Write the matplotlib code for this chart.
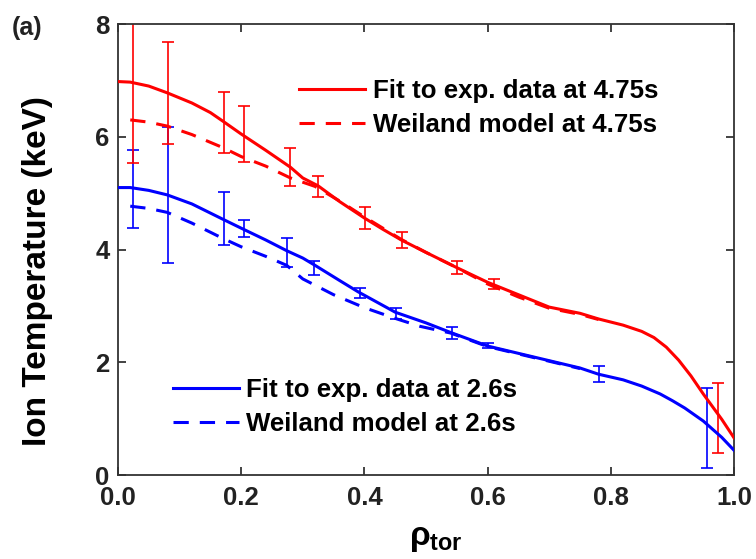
import matplotlib
matplotlib.use("Agg")
import matplotlib.pyplot as plt

plt.rcParams['font.family'] = ['Liberation Sans', 'DejaVu Sans']
plt.rcParams['font.weight'] = 'bold'
plt.rcParams['mathtext.fontset'] = 'custom'
plt.rcParams['mathtext.rm'] = 'Liberation Sans:bold'
plt.rcParams['mathtext.it'] = 'Liberation Sans:bold'
plt.rcParams['mathtext.bf'] = 'Liberation Sans:bold'

# ---- data ----
red_fit_x = [0.0, 0.02, 0.05, 0.08, 0.12, 0.15, 0.17, 0.20, 0.24, 0.28, 0.30, 0.325, 0.36, 0.40, 0.43, 0.46,
             0.50, 0.55, 0.60, 0.65, 0.70, 0.75, 0.78, 0.82, 0.85, 0.87, 0.89, 0.91, 0.93, 0.95, 0.98, 1.00]
red_fit_y = [6.98, 6.97, 6.90, 6.78, 6.60, 6.43, 6.28, 6.05, 5.76, 5.46, 5.27, 5.13, 4.85, 4.56, 4.36, 4.17,
             3.95, 3.68, 3.42, 3.20, 2.98, 2.87, 2.77, 2.66, 2.55, 2.44, 2.27, 2.04, 1.76, 1.44, 0.99, 0.66]

red_model_x = [0.02, 0.05, 0.08, 0.12, 0.17, 0.20, 0.24, 0.28, 0.32, 0.36, 0.40, 0.46, 0.50, 0.55, 0.60,
               0.65, 0.70, 0.75, 0.78]
red_model_y = [6.30, 6.26, 6.19, 6.04, 5.81, 5.65, 5.48, 5.27, 5.12, 4.86, 4.58, 4.18, 3.95, 3.68, 3.39,
               3.16, 2.96, 2.85, 2.76]

blue_fit_x = [0.0, 0.02, 0.05, 0.08, 0.12, 0.17, 0.20, 0.24, 0.274, 0.30, 0.32, 0.36, 0.39, 0.45, 0.50,
              0.54, 0.60, 0.65, 0.70, 0.75, 0.78, 0.82, 0.85, 0.88, 0.90, 0.92, 0.95, 0.98, 1.00]
blue_fit_y = [5.10, 5.10, 5.05, 4.97, 4.81, 4.54, 4.38, 4.17, 3.98, 3.85, 3.72, 3.45, 3.25, 2.89, 2.70,
              2.53, 2.29, 2.16, 2.03, 1.90, 1.79, 1.69, 1.58, 1.44, 1.32, 1.19, 0.96, 0.67, 0.44]

blue_model_x = [0.02, 0.05, 0.08, 0.12, 0.17, 0.20, 0.24, 0.274, 0.30, 0.35, 0.40, 0.45, 0.49, 0.54,
                0.60, 0.65, 0.70, 0.75]
blue_model_y = [4.77, 4.73, 4.66, 4.47, 4.20, 4.05, 3.88, 3.72, 3.48, 3.20, 2.97, 2.78, 2.64, 2.52,
                2.28, 2.15, 2.02, 1.89]

red_err_x = [0.024, 0.081, 0.172, 0.205, 0.279, 0.325, 0.401, 0.461, 0.551, 0.610, 0.974]
red_err_y = [6.98, 6.78, 6.26, 6.05, 5.46, 5.12, 4.56, 4.17, 3.68, 3.39, 1.02]
red_err_e = [1.44, 0.91, 0.54, 0.49, 0.34, 0.18, 0.20, 0.15, 0.12, 0.08, 0.62]

blue_err_x = [0.024, 0.081, 0.172, 0.205, 0.274, 0.318, 0.393, 0.452, 0.542, 0.600, 0.780, 0.956]
blue_err_y = [5.07, 4.97, 4.56, 4.38, 3.95, 3.67, 3.23, 2.87, 2.52, 2.30, 1.79, 0.83]
blue_err_e = [0.69, 1.20, 0.47, 0.15, 0.25, 0.12, 0.09, 0.10, 0.11, 0.05, 0.14, 0.71]

labels_red = ['Fit to exp. data at 4.75s', 'Weiland model at 4.75s']
labels_blue = ['Fit to exp. data at 2.6s', 'Weiland model at 2.6s']
x_ticks = [0.0, 0.2, 0.4, 0.6, 0.8, 1.0]
y_ticks = [0, 2, 4, 6, 8]

RED = '#ff0000'
BLUE = '#0000ff'
dash = (0, (5, 3.6))

fig = plt.figure(figsize=(7.56, 5.59), dpi=100)
ax = fig.add_axes([0.156, 0.150, 0.815, 0.807])

ax.errorbar(blue_err_x, blue_err_y, yerr=blue_err_e, fmt='none', ecolor=BLUE, elinewidth=1.2,
            capsize=4.5, capthick=1.2, zorder=2)
ax.errorbar(red_err_x, red_err_y, yerr=red_err_e, fmt='none', ecolor=RED, elinewidth=1.2,
            capsize=4.5, capthick=1.2, zorder=2)

lb1, = ax.plot(blue_fit_x, blue_fit_y, color=BLUE, lw=2.2, zorder=3)
lb2, = ax.plot(blue_model_x, blue_model_y, color=BLUE, lw=2.2, ls=dash, zorder=3)
lr1, = ax.plot(red_fit_x, red_fit_y, color=RED, lw=2.2, zorder=3)
lr2, = ax.plot(red_model_x, red_model_y, color=RED, lw=2.2, ls=dash, zorder=3)

ax.set_xlim(0, 1.0)
ax.set_ylim(0, 8)
ax.set_xticks(x_ticks)
ax.set_xticklabels([f'{v:.1f}' for v in x_ticks])
ax.set_yticks(y_ticks)
ax.set_yticklabels([str(v) for v in y_ticks])
ax.tick_params(direction='in', length=6, width=1.2, top=True, right=True,
               labelsize=18.5, pad=6, colors='#222222')
ax.tick_params(axis='x', pad=8)
for s in ax.spines.values():
    s.set_linewidth(1.3)
    s.set_color('#333333')

ax.set_ylabel('Ion Temperature (keV)', fontsize=24, fontweight='bold')
ax.yaxis.set_label_coords(-0.105, 0.452)
ax.set_xlabel(r'$\rho_{tor}$', fontsize=24)
ax.xaxis.set_label_coords(0.516, -0.107)

leg1 = ax.legend([lr1, lr2], labels_red, loc='upper left', bbox_to_anchor=(0.294, 0.878),
                 frameon=False, fontsize=18.6, handlelength=2.55, handletextpad=0.3,
                 labelspacing=0.39, borderpad=0, borderaxespad=0)
ax.add_artist(leg1)
leg2 = ax.legend([lb1, lb2], labels_blue, loc='upper left', bbox_to_anchor=(0.089, 0.216),
                 frameon=False, fontsize=18.6, handlelength=2.55, handletextpad=0.3,
                 labelspacing=0.39, borderpad=0, borderaxespad=0)

fig.text(0.015, 0.95, '(a)', fontsize=18, fontweight='bold', color='#222222', va='center')

fig.savefig('out.png', dpi=100)
